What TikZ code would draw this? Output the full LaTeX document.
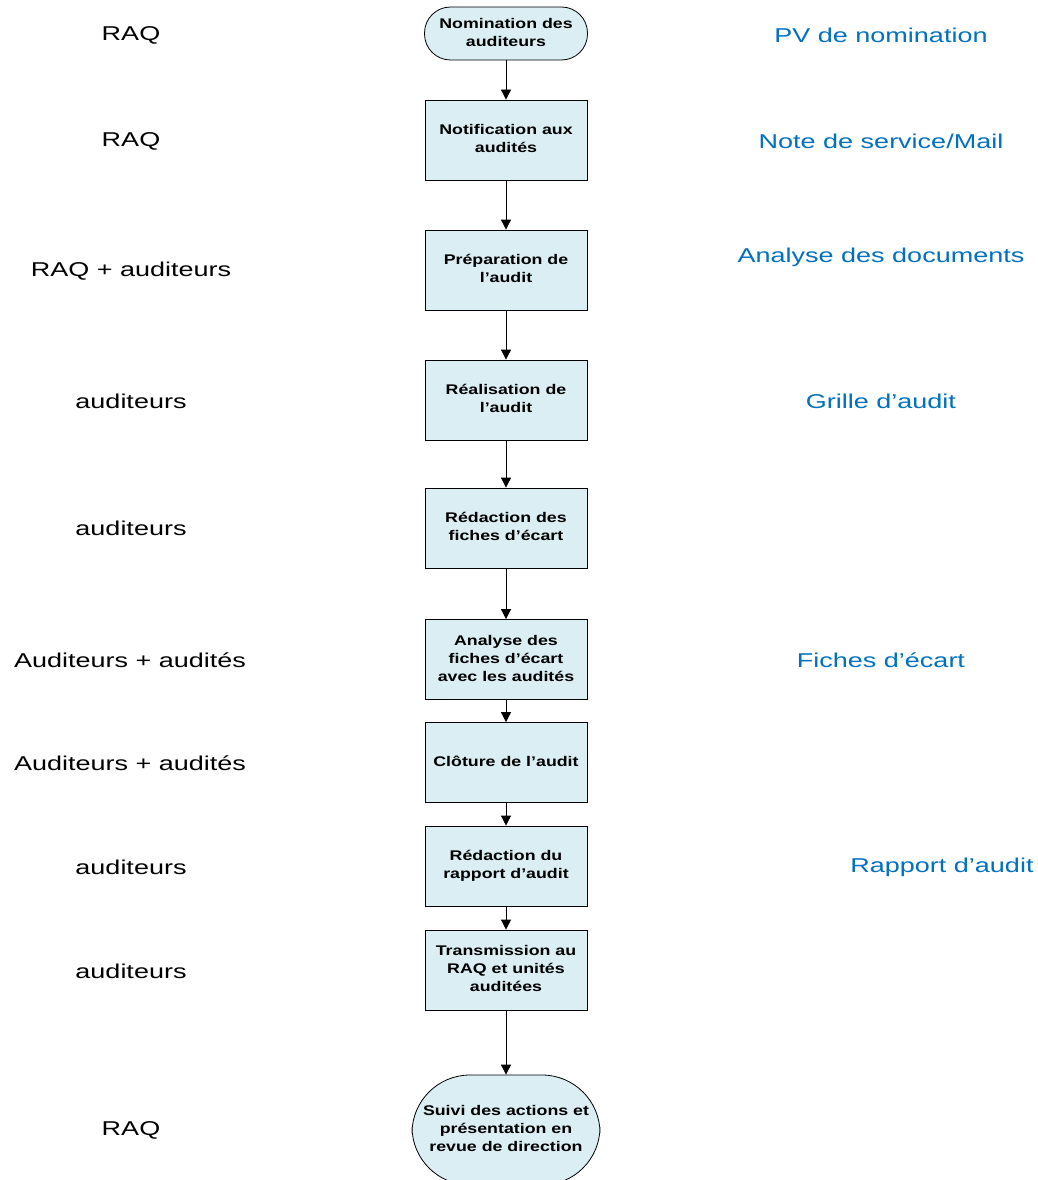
\documentclass[tikz,border=0pt]{standalone}
\usepackage{fontspec}
\setmainfont{Liberation Sans}
\usetikzlibrary{arrows.meta}
\definecolor{boxfill}{HTML}{DAEEF3}
\definecolor{docblue}{HTML}{0070C0}
\newcommand{\bx}[1]{\scalebox{1.27}[1]{\fontsize{14}{18}\selectfont\bfseries\begin{tabular}{@{}c@{}}#1\end{tabular}}}
\newcommand{\lt}[1]{\scalebox{1.35}[1]{\fontsize{20}{24}\selectfont #1}}
\tikzset{
  stepbox/.style={draw=black, line width=0.8pt, fill=boxfill, rectangle, minimum width=162pt, minimum height=80pt, inner sep=0pt},
  termbox/.style={draw=black, line width=0.8pt, fill=boxfill, rectangle, rounded corners=26pt, minimum width=163pt, minimum height=53pt, inner sep=0pt},
  endbox/.style={draw=black, line width=0.8pt, fill=boxfill, rectangle, rounded corners=58pt, minimum width=188pt, minimum height=110pt, inner sep=0pt},
  who/.style={inner sep=0pt, text=black, yshift=-2pt},
  doc/.style={inner sep=0pt, text=docblue, yshift=-2pt},
  flow/.style={draw=black, line width=0.8pt, -{Triangle[width=10pt,length=10pt]}}
}
\begin{document}
\begin{tikzpicture}[x=1pt,y=-1pt]
\useasboundingbox (0,0) rectangle (1037,1180);
\clip (0,0) rectangle (1037,1180);
\fill[white] (0,0) rectangle (1037,1180);
% flow nodes
\node[termbox] (n0) at (506,33.5) {\bx{Nomination des\\auditeurs}};
\node[stepbox] (n1) at (506,140) {\bx{Notification aux\\audités}};
\node[stepbox] (n2) at (506,270) {\bx{Préparation de\\l’audit}};
\node[stepbox] (n3) at (506,400) {\bx{Réalisation de\\l’audit}};
\node[stepbox] (n4) at (506,528) {\bx{Rédaction des\\fiches d’écart}};
\node[stepbox] (n5) at (506,659.5) {\bx{Analyse des\\fiches d’écart\\avec les audités}};
\node[stepbox] (n6) at (506,762.5) {\bx{Clôture de l’audit}};
\node[stepbox] (n7) at (506,866) {\bx{Rédaction du\\rapport d’audit}};
\node[stepbox] (n8) at (506,970) {\bx{Transmission au\\RAQ et unités\\auditées}};
\node[endbox] (n9) at (506,1130) {\bx{Suivi des actions et\\présentation en\\revue de direction}};
% connectors
\draw[flow] (n0) -- (n1);
\draw[flow] (n1) -- (n2);
\draw[flow] (n2) -- (n3);
\draw[flow] (n3) -- (n4);
\draw[flow] (n4) -- (n5);
\draw[flow] (n5) -- (n6);
\draw[flow] (n6) -- (n7);
\draw[flow] (n7) -- (n8);
\draw[flow] (n8) -- (n9);
% actors
\node[who] (a0) at (131,33) {\lt{RAQ}};
\node[who] (a1) at (131,139) {\lt{RAQ}};
\node[who] (a2) at (131,269) {\lt{RAQ + auditeurs}};
\node[who] (a3) at (131,399) {\lt{auditeurs}};
\node[who] (a4) at (131,526) {\lt{auditeurs}};
\node[who] (a5) at (130,658) {\lt{Auditeurs + audités}};
\node[who] (a6) at (130,761) {\lt{Auditeurs + audités}};
\node[who] (a7) at (131,865) {\lt{auditeurs}};
\node[who] (a8) at (131,969) {\lt{auditeurs}};
\node[who] (a9) at (131,1128) {\lt{RAQ}};
% documents
\node[doc] (d0) at (881,33) {\lt{PV de nomination}};
\node[doc] (d1) at (881,139) {\lt{Note de service/Mail}};
\node[doc] (d2) at (881,255) {\lt{Analyse des documents}};
\node[doc] (d3) at (881,399) {\lt{Grille d’audit}};
\node[doc] (d5) at (881,658) {\lt{Fiches d’écart}};
\node[doc] (d7) at (942,865) {\lt{Rapport d’audit}};
\end{tikzpicture}
\end{document}
